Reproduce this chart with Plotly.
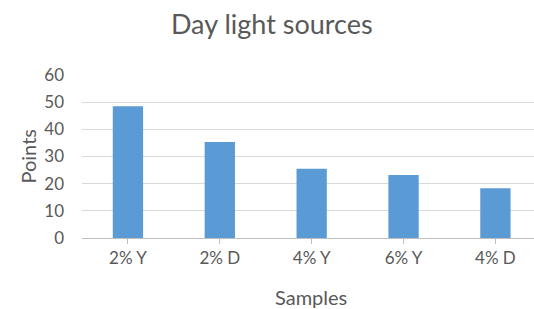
import plotly.graph_objects as go

categories = ["2% Y", "2% D", "4% Y", "6% Y", "4% D"]
points = [48.5, 35.3, 25.5, 23.2, 18.3]
y_ticks = [0, 10, 20, 30, 40, 50, 60]

W, H = 534, 309
L, R, T, B = 82, 0, 75, 71
FONT = "Lato, Open Sans, sans-serif"
GRAY = "#595959"

fig = go.Figure(go.Bar(
    x=list(range(len(categories))), y=points,
    marker=dict(color="#5B9BD5", line=dict(width=0)),
    width=0.33,
))

fig.update_layout(
    width=W, height=H,
    margin=dict(l=L, r=R, t=T, b=B),
    paper_bgcolor="white", plot_bgcolor="white",
    showlegend=False,
    font=dict(family=FONT, color=GRAY, size=17),
    title=dict(text="Day light sources", x=0.509, xref="container", xanchor="center",
               y=1 - 25 / H, yref="container", yanchor="middle",
               font=dict(size=27, color=GRAY, family=FONT)),
    xaxis=dict(
        range=[-0.5, 4.42],
        tickmode="array", tickvals=list(range(len(categories))), ticktext=categories,
        showgrid=False, zeroline=False,
        showline=True, linecolor="#BFBFBF", linewidth=1,
        ticks="outside", ticklen=5, tickcolor="#BFBFBF",
        tickfont=dict(size=17, color=GRAY),
        fixedrange=True,
    ),
    yaxis=dict(
        range=[0, 60], tickmode="array", tickvals=y_ticks,
        showgrid=True, gridcolor="#D9D9D9", gridwidth=1,
        zeroline=False, showline=False,
        ticks="", ticklabelstandoff=17,
        tickfont=dict(size=17, color=GRAY),
        fixedrange=True,
    ),
    annotations=[
        dict(text="Points", xref="paper", yref="paper", x=0, y=0.5,
             xshift=-(L - 27), textangle=-90, showarrow=False,
             xanchor="center", yanchor="middle", font=dict(size=20, color=GRAY)),
        dict(text="Samples", xref="paper", yref="paper", x=(311 - L) / (W - L - R), y=0,
             yshift=-(297 - 238), showarrow=False,
             xanchor="center", yanchor="middle", font=dict(size=20, color=GRAY)),
    ],
)

# x tick marks at category boundaries
fig.update_xaxes(tickson="boundaries")

fig.write_html("out.html", config={"displayModeBar": False},
               post_script="document.body.style.margin='0';document.body.style.overflow='hidden';")
